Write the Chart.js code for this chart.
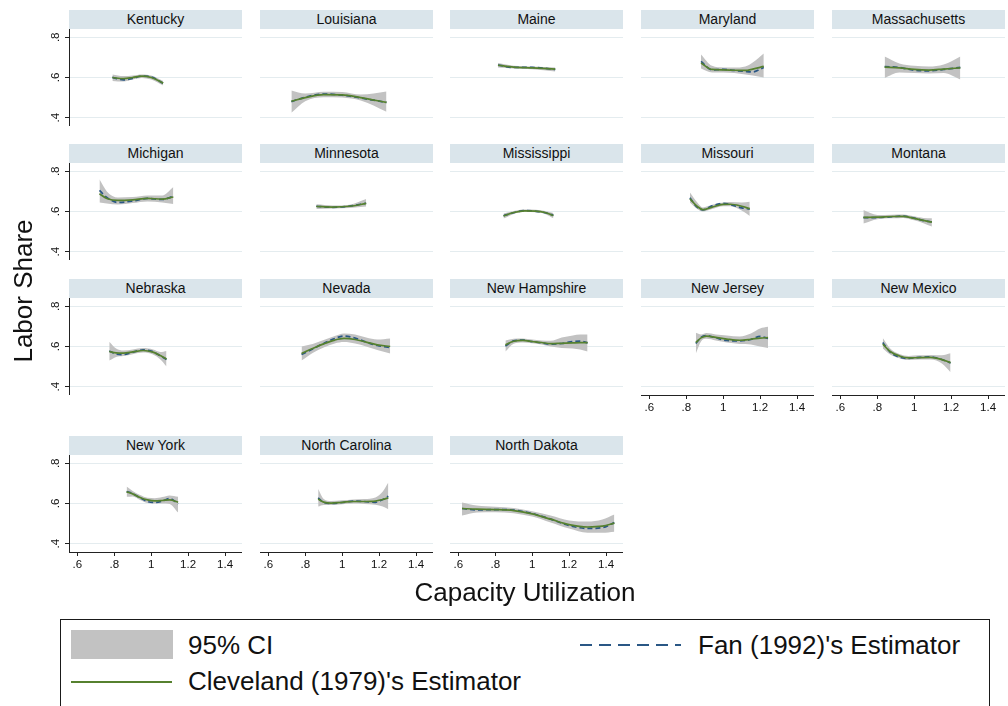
<!DOCTYPE html>
<html>
<head>
<meta charset="utf-8">
<script src="https://cdn.jsdelivr.net/npm/chart.js@4.4.1/dist/chart.umd.min.js"></script>
<style>
  html, body { margin: 0; padding: 0; background: #fff; width: 1008px; height: 706px; overflow: hidden;
    font-family: "Liberation Sans", Arial, sans-serif; color: #111; }
  canvas { position: absolute; }
  .strip { position: absolute; height: 19px; line-height: 19px; background: #dae5eb; text-align: center;
    font-size: 14px; color: #111; white-space: nowrap; }
  .big { position: absolute; font-size: 26px; line-height: 30px; height: 30px; white-space: nowrap; color: #111; }
  .legend-box { position: absolute; border: 1px solid #1a1a1a; box-sizing: border-box; }
  .key { position: absolute; }
</style>
</head>
<body>
<script>
// Axis ticks shared by every panel
const xTicks = [0.6, 0.8, 1.0, 1.2, 1.4];
const xTickLabels = ['.6', '.8', '1', '1.2', '1.4'];
const yTicks = [0.4, 0.6, 0.8];
const yTickLabels = ['.4', '.6', '.8'];

const stateNames = ['Kentucky', 'Louisiana', 'Maine', 'Maryland', 'Massachusetts',
  'Michigan', 'Minnesota', 'Mississippi', 'Missouri', 'Montana',
  'Nebraska', 'Nevada', 'New Hampshire', 'New Jersey', 'New Mexico',
  'New York', 'North Carolina', 'North Dakota'];

// Per state: capacity utilization grid, Cleveland fit, Fan fit, 95% CI bounds
const kentuckyCU = [0.79, 0.85, 0.90, 0.95, 1.00, 1.065];
const kentuckyCleveland = [0.600, 0.594, 0.600, 0.607, 0.600, 0.572];
const kentuckyFan = [0.601, 0.588, 0.596, 0.607, 0.603, 0.571];
const kentuckyLow = [0.583, 0.580, 0.590, 0.598, 0.590, 0.560];
const kentuckyHigh = [0.615, 0.607, 0.610, 0.615, 0.610, 0.582];

const louisianaCU = [0.725, 0.80, 0.90, 1.00, 1.10, 1.24];
const louisianaCleveland = [0.482, 0.500, 0.515, 0.514, 0.500, 0.476];
const louisianaFan = [0.480, 0.502, 0.518, 0.512, 0.498, 0.476];
const louisianaLow = [0.425, 0.482, 0.502, 0.500, 0.485, 0.430];
const louisianaHigh = [0.535, 0.520, 0.529, 0.528, 0.515, 0.530];

const maineCU = [0.815, 0.90, 1.00, 1.125];
const maineCleveland = [0.661, 0.652, 0.648, 0.642];
const maineFan = [0.662, 0.650, 0.650, 0.640];
const maineLow = [0.650, 0.645, 0.641, 0.630];
const maineHigh = [0.672, 0.659, 0.655, 0.650];

const marylandCU = [0.88, 0.94, 1.00, 1.06, 1.12, 1.16, 1.22];
const marylandCleveland = [0.672, 0.640, 0.638, 0.636, 0.635, 0.642, 0.655];
const marylandFan = [0.680, 0.638, 0.640, 0.635, 0.630, 0.628, 0.650];
const marylandLow = [0.645, 0.625, 0.625, 0.622, 0.615, 0.610, 0.600];
const marylandHigh = [0.715, 0.658, 0.650, 0.650, 0.655, 0.675, 0.720];

const massachusettsCU = [0.84, 0.92, 1.00, 1.08, 1.16, 1.25];
const massachusettsCleveland = [0.652, 0.648, 0.640, 0.637, 0.642, 0.648];
const massachusettsFan = [0.654, 0.650, 0.636, 0.633, 0.640, 0.650];
const massachusettsLow = [0.598, 0.625, 0.622, 0.620, 0.622, 0.590];
const massachusettsHigh = [0.705, 0.670, 0.658, 0.655, 0.665, 0.705];

const michiganCU = [0.72, 0.76, 0.82, 0.90, 0.98, 1.06, 1.12];
const michiganCleveland = [0.688, 0.665, 0.655, 0.658, 0.665, 0.662, 0.672];
const michiganFan = [0.705, 0.670, 0.645, 0.652, 0.665, 0.660, 0.675];
const michiganLow = [0.645, 0.640, 0.635, 0.642, 0.650, 0.645, 0.637];
const michiganHigh = [0.760, 0.700, 0.670, 0.672, 0.680, 0.680, 0.722];

const minnesotaCU = [0.86, 0.95, 1.04, 1.13];
const minnesotaCleveland = [0.625, 0.622, 0.626, 0.640];
const minnesotaFan = [0.626, 0.621, 0.627, 0.641];
const minnesotaLow = [0.612, 0.615, 0.618, 0.625];
const minnesotaHigh = [0.636, 0.630, 0.634, 0.662];

const mississippiCU = [0.845, 0.90, 0.96, 1.02, 1.07, 1.115];
const mississippiCleveland = [0.578, 0.595, 0.603, 0.602, 0.595, 0.580];
const mississippiFan = [0.579, 0.594, 0.604, 0.601, 0.594, 0.581];
const mississippiLow = [0.565, 0.588, 0.597, 0.596, 0.588, 0.566];
const mississippiHigh = [0.590, 0.603, 0.610, 0.609, 0.603, 0.592];

const missouriCU = [0.82, 0.86, 0.89, 0.94, 1.00, 1.04, 1.10, 1.144];
const missouriCleveland = [0.663, 0.625, 0.609, 0.622, 0.635, 0.636, 0.626, 0.614];
const missouriFan = [0.668, 0.620, 0.608, 0.628, 0.640, 0.634, 0.618, 0.612];
const missouriLow = [0.645, 0.612, 0.600, 0.612, 0.626, 0.626, 0.605, 0.578];
const missouriHigh = [0.695, 0.645, 0.620, 0.633, 0.645, 0.647, 0.645, 0.648];

const montanaCU = [0.725, 0.80, 0.88, 0.94, 1.00, 1.05, 1.096];
const montanaCleveland = [0.571, 0.572, 0.575, 0.576, 0.566, 0.556, 0.547];
const montanaFan = [0.570, 0.570, 0.574, 0.577, 0.567, 0.555, 0.548];
const montanaLow = [0.540, 0.562, 0.566, 0.568, 0.556, 0.542, 0.525];
const montanaHigh = [0.607, 0.583, 0.584, 0.585, 0.576, 0.568, 0.567];

const nebraskaCU = [0.773, 0.81, 0.85, 0.90, 0.957, 1.01, 1.05, 1.083];
const nebraskaCleveland = [0.575, 0.568, 0.567, 0.573, 0.580, 0.572, 0.555, 0.538];
const nebraskaFan = [0.578, 0.563, 0.560, 0.572, 0.583, 0.574, 0.553, 0.535];
const nebraskaLow = [0.530, 0.548, 0.553, 0.562, 0.570, 0.560, 0.535, 0.500];
const nebraskaHigh = [0.624, 0.590, 0.580, 0.585, 0.592, 0.585, 0.573, 0.578];

const nevadaCU = [0.78, 0.84, 0.90, 0.96, 1.01, 1.07, 1.13, 1.19, 1.26];
const nevadaCleveland = [0.565, 0.590, 0.613, 0.632, 0.640, 0.635, 0.622, 0.608, 0.600];
const nevadaFan = [0.560, 0.588, 0.615, 0.640, 0.652, 0.642, 0.622, 0.605, 0.595];
const nevadaLow = [0.530, 0.568, 0.595, 0.615, 0.622, 0.615, 0.600, 0.582, 0.565];
const nevadaHigh = [0.600, 0.612, 0.632, 0.652, 0.665, 0.660, 0.645, 0.635, 0.640];

const newHampshireCU = [0.855, 0.90, 0.95, 1.00, 1.05, 1.10, 1.16, 1.22, 1.26, 1.30];
const newHampshireCleveland = [0.608, 0.626, 0.630, 0.625, 0.620, 0.614, 0.616, 0.618, 0.619, 0.619];
const newHampshireFan = [0.602, 0.628, 0.632, 0.624, 0.618, 0.612, 0.615, 0.625, 0.627, 0.618];
const newHampshireLow = [0.575, 0.614, 0.620, 0.616, 0.610, 0.600, 0.593, 0.590, 0.585, 0.575];
const newHampshireHigh = [0.630, 0.638, 0.640, 0.635, 0.630, 0.628, 0.645, 0.655, 0.660, 0.660];

const newJerseyCU = [0.852, 0.88, 0.91, 0.96, 1.02, 1.09, 1.15, 1.20, 1.243];
const newJerseyCleveland = [0.620, 0.643, 0.652, 0.645, 0.637, 0.631, 0.636, 0.642, 0.644];
const newJerseyFan = [0.615, 0.645, 0.654, 0.643, 0.630, 0.628, 0.635, 0.650, 0.640];
const newJerseyLow = [0.565, 0.625, 0.638, 0.630, 0.620, 0.613, 0.610, 0.600, 0.592];
const newJerseyHigh = [0.668, 0.660, 0.667, 0.660, 0.655, 0.650, 0.665, 0.690, 0.698];

const newMexicoCU = [0.83, 0.87, 0.92, 0.97, 1.03, 1.09, 1.15, 1.197];
const newMexicoCleveland = [0.612, 0.575, 0.553, 0.543, 0.545, 0.546, 0.535, 0.520];
const newMexicoFan = [0.620, 0.572, 0.547, 0.541, 0.546, 0.548, 0.535, 0.518];
const newMexicoLow = [0.590, 0.560, 0.542, 0.533, 0.535, 0.535, 0.515, 0.472];
const newMexicoHigh = [0.642, 0.590, 0.563, 0.553, 0.556, 0.558, 0.556, 0.566];

const newYorkCU = [0.867, 0.90, 0.94, 0.98, 1.02, 1.06, 1.10, 1.146];
const newYorkCleveland = [0.658, 0.648, 0.630, 0.618, 0.613, 0.615, 0.618, 0.606];
const newYorkFan = [0.660, 0.650, 0.628, 0.610, 0.605, 0.612, 0.625, 0.598];
const newYorkLow = [0.633, 0.635, 0.618, 0.603, 0.600, 0.600, 0.598, 0.555];
const newYorkHigh = [0.684, 0.662, 0.642, 0.628, 0.626, 0.632, 0.640, 0.633];

const northCarolinaCU = [0.87, 0.90, 0.94, 1.00, 1.06, 1.12, 1.18, 1.22, 1.25];
const northCarolinaCleveland = [0.622, 0.607, 0.602, 0.606, 0.610, 0.610, 0.612, 0.620, 0.628];
const northCarolinaFan = [0.628, 0.605, 0.600, 0.605, 0.612, 0.610, 0.606, 0.620, 0.636];
const northCarolinaLow = [0.585, 0.593, 0.592, 0.596, 0.600, 0.598, 0.594, 0.585, 0.572];
const northCarolinaHigh = [0.672, 0.622, 0.612, 0.616, 0.620, 0.622, 0.630, 0.660, 0.705];

const northDakotaCU = [0.62, 0.70, 0.80, 0.90, 1.00, 1.10, 1.20, 1.30, 1.38, 1.445];
const northDakotaCleveland = [0.575, 0.572, 0.570, 0.565, 0.548, 0.522, 0.495, 0.483, 0.487, 0.502];
const northDakotaFan = [0.575, 0.568, 0.570, 0.567, 0.550, 0.522, 0.490, 0.476, 0.480, 0.505];
const northDakotaLow = [0.540, 0.555, 0.556, 0.552, 0.535, 0.505, 0.475, 0.455, 0.455, 0.460];
const northDakotaHigh = [0.605, 0.590, 0.584, 0.578, 0.562, 0.540, 0.515, 0.510, 0.520, 0.545];

// Panel table (same order as stateNames)
const panels = [
  [kentuckyCU, kentuckyCleveland, kentuckyFan, kentuckyLow, kentuckyHigh],
  [louisianaCU, louisianaCleveland, louisianaFan, louisianaLow, louisianaHigh],
  [maineCU, maineCleveland, maineFan, maineLow, maineHigh],
  [marylandCU, marylandCleveland, marylandFan, marylandLow, marylandHigh],
  [massachusettsCU, massachusettsCleveland, massachusettsFan, massachusettsLow, massachusettsHigh],
  [michiganCU, michiganCleveland, michiganFan, michiganLow, michiganHigh],
  [minnesotaCU, minnesotaCleveland, minnesotaFan, minnesotaLow, minnesotaHigh],
  [mississippiCU, mississippiCleveland, mississippiFan, mississippiLow, mississippiHigh],
  [missouriCU, missouriCleveland, missouriFan, missouriLow, missouriHigh],
  [montanaCU, montanaCleveland, montanaFan, montanaLow, montanaHigh],
  [nebraskaCU, nebraskaCleveland, nebraskaFan, nebraskaLow, nebraskaHigh],
  [nevadaCU, nevadaCleveland, nevadaFan, nevadaLow, nevadaHigh],
  [newHampshireCU, newHampshireCleveland, newHampshireFan, newHampshireLow, newHampshireHigh],
  [newJerseyCU, newJerseyCleveland, newJerseyFan, newJerseyLow, newJerseyHigh],
  [newMexicoCU, newMexicoCleveland, newMexicoFan, newMexicoLow, newMexicoHigh],
  [newYorkCU, newYorkCleveland, newYorkFan, newYorkLow, newYorkHigh],
  [northCarolinaCU, northCarolinaCleveland, northCarolinaFan, northCarolinaLow, northCarolinaHigh],
  [northDakotaCU, northDakotaCleveland, northDakotaFan, northDakotaLow, northDakotaHigh]
];

// ---- layout and styling ----
const FONT = '"Liberation Sans", Arial, sans-serif';
const GREEN = '#56812f';
const NAVY = '#2a5785';
const CI_GRAY = '#c2c2c2';
const GRID = '#e4ecef';
const AXIS = '#222222';

const colLeft = [69, 260, 450, 641, 832];
const rowTop = [10, 144, 279, 436];
const STRIP_H = 19, PLOT_W = 173, PLOT_H = 97, YAXIS_W = 40, XAXIS_H = 26;
const X_MIN = 0.555, X_MAX = 1.4919;
const Y_MIN = 0.3587, Y_MAX = 0.8413;

Chart.defaults.font.family = FONT;

// rotated y tick labels, placed with the panel's own y scale
const rotatedYLabels = {
  id: 'rotatedYLabels',
  afterDraw(chart, args, opts) {
    if (!opts.show) return;
    const s = chart.scales.y;
    const ctx = chart.ctx;
    ctx.save();
    ctx.fillStyle = '#111';
    ctx.font = '11.5px ' + FONT;
    ctx.textAlign = 'center';
    ctx.textBaseline = 'alphabetic';
    yTicks.forEach((v, i) => {
      const py = s.getPixelForValue(v);
      ctx.save();
      ctx.translate(s.right - 10, py);
      ctx.rotate(-Math.PI / 2);
      ctx.fillText(yTickLabels[i], 0, 0);
      ctx.restore();
    });
    ctx.restore();
  }
};

const toPoints = (xs, ys) => xs.map((x, i) => ({ x: x, y: ys[i] }));

panels.forEach((p, i) => {
  const col = i % 5, row = Math.floor(i / 5);
  const showY = col === 0;
  const showX = row === 3 || (row === 2 && col >= 3);

  const strip = document.createElement('div');
  strip.className = 'strip';
  strip.style.left = colLeft[col] + 'px';
  strip.style.top = rowTop[row] + 'px';
  strip.style.width = PLOT_W + 'px';
  strip.textContent = stateNames[i];
  document.body.appendChild(strip);

  const w = PLOT_W + (showY ? YAXIS_W : 0);
  const h = PLOT_H + (showX ? XAXIS_H : 0);
  const cv = document.createElement('canvas');
  cv.width = w; cv.height = h;
  cv.style.width = w + 'px'; cv.style.height = h + 'px';
  cv.style.left = (colLeft[col] - (showY ? YAXIS_W : 0)) + 'px';
  cv.style.top = (rowTop[row] + STRIP_H) + 'px';
  document.body.appendChild(cv);

  const [cu, clev, fan, lo, hi] = p;
  new Chart(cv, {
    type: 'line',
    data: {
      datasets: [
        { label: "Cleveland (1979)'s Estimator", data: toPoints(cu, clev), borderColor: GREEN,
          borderWidth: 1.7, pointRadius: 0, cubicInterpolationMode: 'monotone', fill: false },
        { label: "Fan (1992)'s Estimator", data: toPoints(cu, fan), borderColor: NAVY,
          borderWidth: 1.7, borderDash: [5, 3], pointRadius: 0, cubicInterpolationMode: 'monotone', fill: false },
        { label: '95% CI lower', data: toPoints(cu, lo), borderColor: 'rgba(0,0,0,0)',
          borderWidth: 1, pointRadius: 0, cubicInterpolationMode: 'monotone', fill: false },
        { label: '95% CI', data: toPoints(cu, hi), borderColor: 'rgba(0,0,0,0)', backgroundColor: CI_GRAY,
          borderWidth: 1, pointRadius: 0, cubicInterpolationMode: 'monotone', fill: '-1' }
      ]
    },
    options: {
      responsive: false,
      animation: false,
      devicePixelRatio: 1,
      events: [],
      layout: { padding: 0 },
      plugins: {
        legend: { display: false },
        tooltip: { enabled: false },
        filler: { drawTime: 'beforeDatasetsDraw' },
        rotatedYLabels: { show: showY }
      },
      scales: {
        x: {
          type: 'linear', min: X_MIN, max: X_MAX, display: showX,
          afterBuildTicks: s => { s.ticks = xTicks.map(v => ({ value: v })); },
          afterFit: s => { s.height = showX ? XAXIS_H : 0; },
          grid: { display: true, drawOnChartArea: false, drawTicks: true, tickLength: 4, color: AXIS },
          border: { display: true, color: AXIS, width: 1 },
          ticks: { autoSkip: false, maxRotation: 0, minRotation: 0, padding: 2, color: '#111',
            font: { size: 11.5 }, callback: (v, idx) => xTickLabels[idx] }
        },
        y: {
          type: 'linear', min: Y_MIN, max: Y_MAX, position: 'left',
          afterBuildTicks: s => { s.ticks = yTicks.map(v => ({ value: v })); },
          afterFit: s => { s.width = showY ? YAXIS_W : 0; },
          grid: { display: true, color: GRID, lineWidth: 1, drawTicks: showY, tickLength: 4, tickColor: AXIS },
          border: { display: showY, color: AXIS, width: 1 },
          ticks: { display: false }
        }
      }
    },
    plugins: [rotatedYLabels]
  });
});

// axis titles
const yTitle = document.createElement('div');
yTitle.className = 'big';
yTitle.style.width = '200px';
yTitle.style.textAlign = 'center';
yTitle.style.left = (22.7 - 100) + 'px';
yTitle.style.top = (290.5 - 15) + 'px';
yTitle.style.transform = 'rotate(-90deg)';
yTitle.textContent = 'Labor Share';
document.body.appendChild(yTitle);

const xTitle = document.createElement('div');
xTitle.className = 'big';
xTitle.style.width = '400px';
xTitle.style.textAlign = 'center';
xTitle.style.left = (525 - 200) + 'px';
xTitle.style.top = '577px';
xTitle.textContent = 'Capacity Utilization';
document.body.appendChild(xTitle);

// legend
function addEl(cls, styles, text) {
  const d = document.createElement('div');
  d.className = cls;
  Object.assign(d.style, styles);
  if (text) d.textContent = text;
  document.body.appendChild(d);
  return d;
}
addEl('legend-box', { left: '60px', top: '619px', width: '930px', height: '120px' });
addEl('key', { left: '71px', top: '630px', width: '102px', height: '29px', background: CI_GRAY });
addEl('big', { left: '188px', top: '630px' }, '95% CI');
addEl('key', { left: '580px', top: '644px', width: '101px', height: '2px',
  background: 'repeating-linear-gradient(to right, ' + NAVY + ' 0 12px, transparent 12px 19px)' });
addEl('big', { left: '698px', top: '630px' }, "Fan (1992)'s Estimator");
addEl('key', { left: '71px', top: '681px', width: '101px', height: '2px', background: GREEN });
addEl('big', { left: '188px', top: '666px' }, "Cleveland (1979)'s Estimator");
</script>
</body>
</html>
